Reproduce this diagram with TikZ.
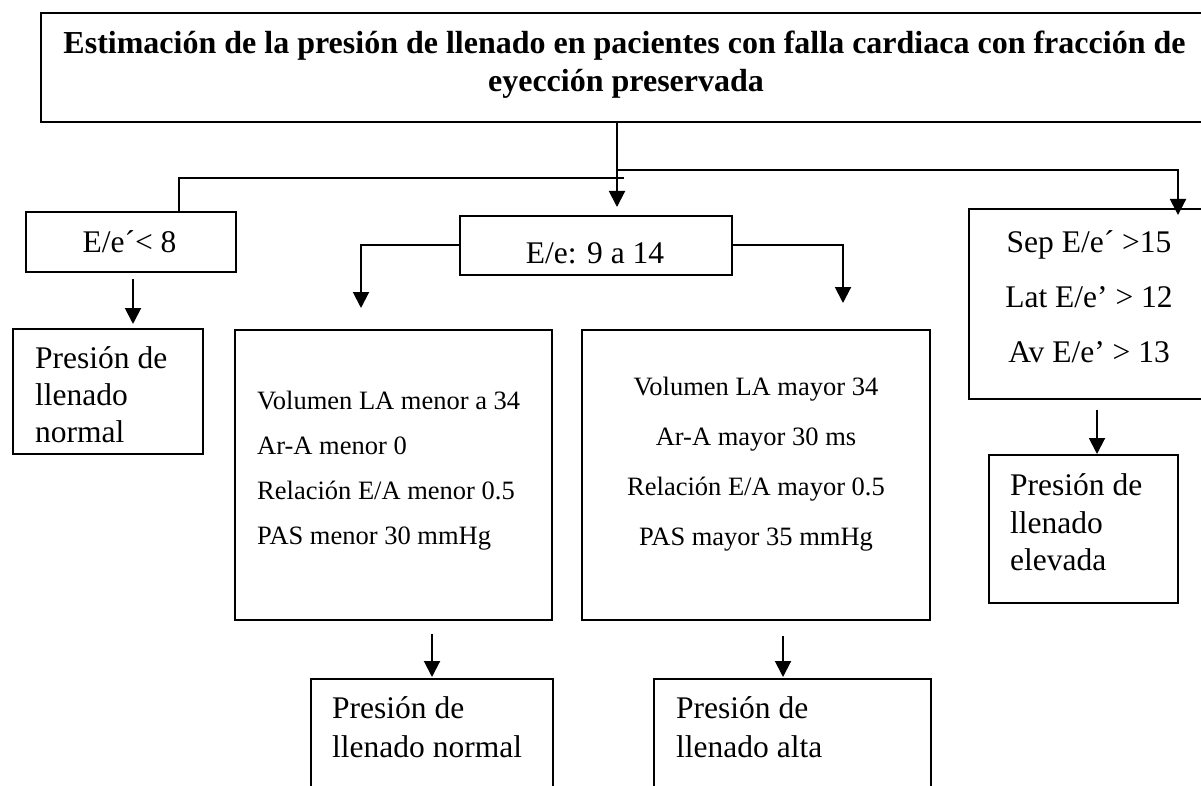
\documentclass[tikz,border=0pt]{standalone}
\usepackage{fontspec}
\setmainfont{Liberation Serif}
\usetikzlibrary{arrows.meta}
\begin{document}
\begin{tikzpicture}[x=1pt,y=-1pt,
  box/.style={draw,line width=2pt,rectangle,inner sep=0pt},
  big/.style={inner sep=0pt,font=\fontsize{31.5}{37}\selectfont},
  small/.style={inner sep=0pt,font=\fontsize{26.5}{31}\selectfont},
  ttl/.style={inner sep=0pt,font=\fontsize{32}{37}\selectfont\bfseries},
  conn/.style={line width=2pt},
  arr/.style={line width=2pt,-{Triangle[width=16pt,length=16pt]}}]
\path[use as bounding box,clip] (0,0) rectangle (1201,786);
% boxes
\node[box,minimum width=1167pt,minimum height=109pt] (top) at (624.5,67.5) {};
\node[box,minimum width=210pt,minimum height=60pt] (ee8) at (131,242) {};
\node[box,minimum width=272pt,minimum height=59pt] (ee914) at (596,245.5) {};
\node[box,minimum width=240pt,minimum height=190pt] (sep) at (1089,304) {};
\node[box,minimum width=190pt,minimum height=125pt] (pn1) at (108,391.5) {};
\node[box,minimum width=317pt,minimum height=290pt] (menor) at (393.5,475) {};
\node[box,minimum width=348pt,minimum height=290pt] (mayor) at (756,475) {};
\node[box,minimum width=189pt,minimum height=148pt] (elev) at (1083.5,529) {};
\node[box,minimum width=242pt,minimum height=141pt] (pn2) at (432,749.5) {};
\node[box,minimum width=277pt,minimum height=141pt] (pa) at (792.5,749.5) {};
% texts
\node[ttl,anchor=base] (t1) at (624.5,54) {Estimación de la presión de llenado en pacientes con falla cardiaca con fracción de};
\node[ttl,anchor=base] (t2) at (626,92) {eyección preservada};
\node[big,anchor=base] (a1) at (129.5,253) {E/e´< 8};
\node[big,anchor=base] (b1) at (595,264) {E/e: 9 a 14};
\node[big,anchor=base] (s1) at (1089,252) {Sep E/e´ >15};
\node[big,anchor=base] (s2) at (1089,307) {Lat E/e’ > 12};
\node[big,anchor=base] (s3) at (1089,362) {Av E/e’ > 13};
\node[big,anchor=base west] (p1) at (35,368) {Presión de};
\node[big,anchor=base west] (p2) at (35,405) {llenado};
\node[big,anchor=base west] (p3) at (35,442) {normal};
\node[small,anchor=base west] (m1) at (257,409) {Volumen LA menor a 34};
\node[small,anchor=base west] (m2) at (257,454) {Ar-A menor 0};
\node[small,anchor=base west] (m3) at (257,499) {Relación E/A menor 0.5};
\node[small,anchor=base west] (m4) at (257,544) {PAS menor 30 mmHg};
\node[small,anchor=base] (y1) at (756,395) {Volumen LA mayor 34};
\node[small,anchor=base] (y2) at (756,445) {Ar-A mayor 30 ms};
\node[small,anchor=base] (y3) at (756,495) {Relación E/A mayor 0.5};
\node[small,anchor=base] (y4) at (756,545) {PAS mayor 35 mmHg};
\node[big,anchor=base west] (e1) at (1010,495) {Presión de};
\node[big,anchor=base west] (e2) at (1010,533) {llenado};
\node[big,anchor=base west] (e3) at (1010,570) {elevada};
\node[big,anchor=base west] (q1) at (332,718) {Presión de};
\node[big,anchor=base west] (q2) at (332,757) {llenado normal};
\node[big,anchor=base west] (r1) at (676,718) {Presión de};
\node[big,anchor=base west] (r2) at (676,757) {llenado alta};
% coordinates
\coordinate (t0) at (617,122);
\coordinate (t1) at (617,207);
\coordinate (bLe) at (624,178);
\coordinate (bL) at (179,178);
\coordinate (bR0) at (617,170);
\coordinate (bR) at (1178,170);
\coordinate (bRt) at (1178,215);
\coordinate (cL) at (361,308);
\coordinate (cR) at (843,303);
\coordinate (d0) at (133,279);
\coordinate (d1) at (133,324);
\coordinate (f0) at (432,634);
\coordinate (f1) at (432,677);
\coordinate (g0) at (783,636);
\coordinate (g1) at (783,677);
\coordinate (h0) at (1097,410);
\coordinate (h1) at (1097,454);
% connectors
\draw[arr] (t0) -- (t1);
\draw[conn] (bLe) -- (bL) -- (bL |- ee8.north);
\draw[arr] (bR0) -- (bR) -- (bRt);
\draw[arr] (ee914.west) -| (cL);
\draw[arr] (ee914.east) -| (cR);
\draw[arr] (d0) -- (d1);
\draw[arr] (f0) -- (f1);
\draw[arr] (g0) -- (g1);
\draw[arr] (h0) -- (h1);
\end{tikzpicture}
\end{document}
